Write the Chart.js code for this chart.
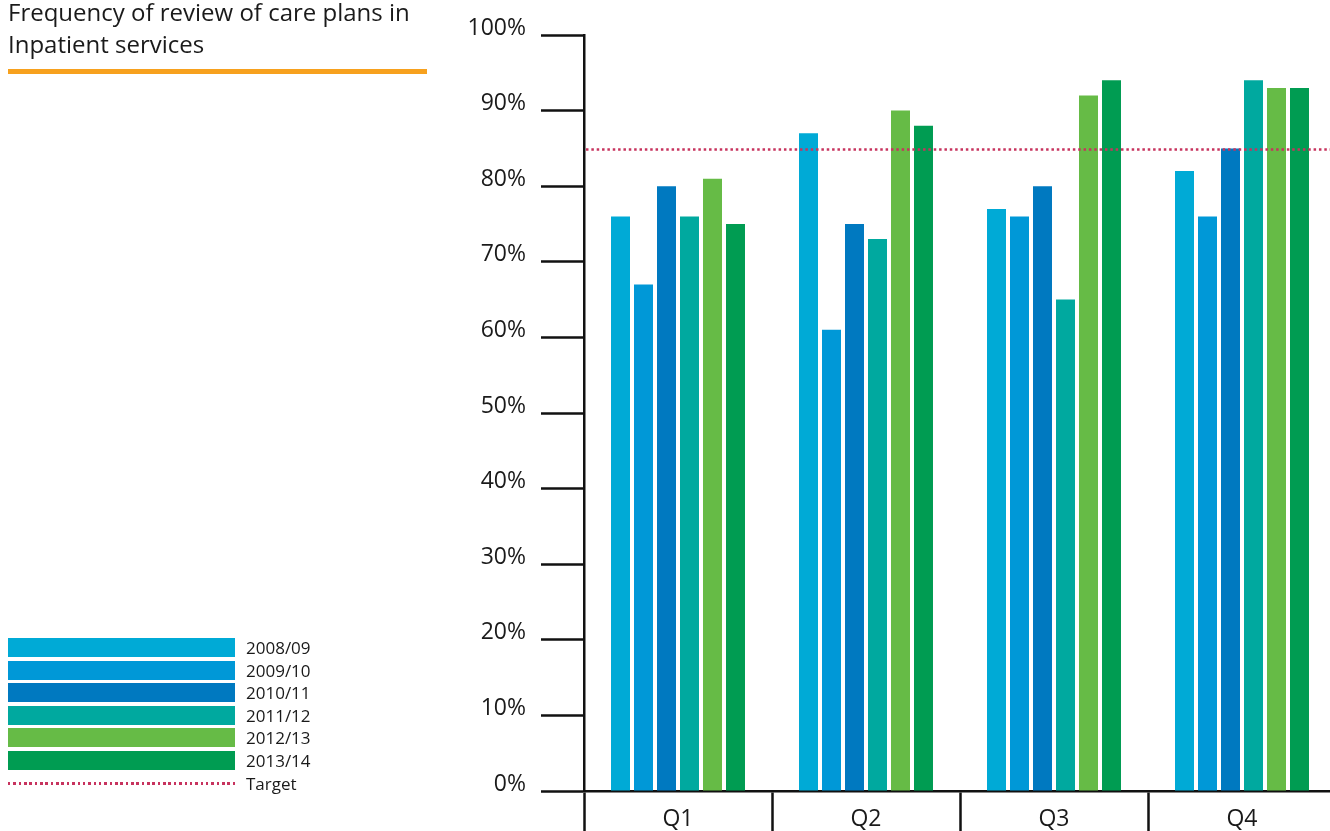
<!DOCTYPE html>
<html>
<head>
<meta charset="utf-8">
<script src="https://cdn.jsdelivr.net/npm/chart.js@4/dist/chart.umd.min.js"></script>
<style>
  html, body { margin: 0; padding: 0; background: #fff; width: 1330px; height: 831px; overflow: hidden; font-family: "Open Sans", sans-serif; color: #1a1a1a; }
  #chartBox { position: absolute; left: 0; top: 0; width: 1336px; height: 831px; }
  #title { position: absolute; left: 8px; top: -4px; font-size: 24px; line-height: 32px; white-space: nowrap; }
  #rule { position: absolute; left: 8px; top: 69px; width: 419px; height: 5px; background: #F7A11E; }
  #legend { position: absolute; left: 8px; top: 638px; width: 330px; }
  .row { position: absolute; left: 0; width: 330px; height: 19px; }
  .swatch { position: absolute; left: 0; top: 0; width: 227px; height: 19px; }
  .dots { position: absolute; left: 0; top: 8px; width: 227px; height: 2.5px; }
  .label { position: absolute; left: 238px; top: 0; font-size: 17px; line-height: 19px; white-space: nowrap; }
</style>
</head>
<body>
<div id="chartBox"><canvas id="chart" width="1336" height="831"></canvas></div>
<div id="title">Frequency of review of care plans in<br>Inpatient services</div>
<div id="rule"></div>
<div id="legend"></div>
<script>
// Quarters along the x axis
const categories = ['Q1', 'Q2', 'Q3', 'Q4'];

// Financial years, one bar series each
const seriesNames = ['2008/09', '2009/10', '2010/11', '2011/12', '2012/13', '2013/14'];

// Percentage of care plans reviewed on time, per quarter
const values0809 = [76, 87, 77, 82];
const values0910 = [67, 61, 76, 76];
const values1011 = [80, 75, 80, 85];
const values1112 = [76, 73, 65, 94];
const values1213 = [81, 90, 92, 93];
const values1314 = [75, 88, 94, 93];

// Target level and axis ticks
const targetValue = 85;
const targetLabel = 'Target';
const yTickValues = [0, 10, 20, 30, 40, 50, 60, 70, 80, 90, 100];

const seriesColors = ['#00AAD6', '#0098D7', '#0079C0', '#00A99F', '#66BB46', '#009C52'];
const targetColor = '#C7335E';

const seriesValues = [values0809, values0910, values1011, values1112, values1213, values1314];

// Dotted target line across the plot area
const targetLinePlugin = {
  id: 'targetLine',
  afterDatasetsDraw(chart) {
    const { ctx, chartArea, scales } = chart;
    const y = scales.y.getPixelForValue(targetValue) + 1;
    ctx.save();
    ctx.strokeStyle = targetColor;
    ctx.lineWidth = 2.5;
    ctx.setLineDash([2.5, 2.85]);
    ctx.beginPath();
    ctx.moveTo(chartArea.left + 2, y);
    ctx.lineTo(chartArea.right, y);
    ctx.stroke();
    ctx.restore();
  }
};

new Chart(document.getElementById('chart'), {
  type: 'bar',
  data: {
    labels: categories,
    datasets: seriesNames.map((name, i) => ({
      label: name,
      data: seriesValues[i],
      backgroundColor: seriesColors[i],
      borderWidth: 0,
      categoryPercentage: 0.734,
      barPercentage: 0.826
    }))
  },
  options: {
    responsive: false,
    animation: false,
    devicePixelRatio: 1,
    layout: { padding: { top: 35, left: 0, right: 0, bottom: 0 } },
    plugins: {
      legend: { display: false },
      tooltip: { enabled: false },
      title: { display: false }
    },
    scales: {
      x: {
        grid: {
          offset: true,
          drawOnChartArea: false,
          drawTicks: true,
          tickLength: 40,
          tickWidth: 2.5,
          tickColor: '#111',
          color: '#111'
        },
        border: { display: true, color: '#111', width: 2.5 },
        ticks: {
          font: { family: '"Open Sans", sans-serif', size: 23 },
          color: '#1a1a1a',
          padding: -25,
          maxRotation: 0
        },
        afterFit(scale) { scale.height = 40; }
      },
      y: {
        min: 0,
        max: 100,
        afterBuildTicks(scale) { scale.ticks = yTickValues.map(v => ({ value: v })); },
        grid: {
          drawOnChartArea: false,
          drawTicks: true,
          tickLength: 43,
          tickWidth: 2.5,
          tickColor: '#111',
          color: '#111'
        },
        border: { display: true, color: '#111', width: 2.5 },
        ticks: {
          font: { family: '"Open Sans", sans-serif', size: 23 },
          color: '#1a1a1a',
          padding: 15,
          labelOffset: -7,
          callback: v => v + '%'
        },
        afterFit(scale) { scale.width = 584; }
      }
    }
  },
  plugins: [targetLinePlugin]
});

// Legend rows built from the same series names and colours
const legend = document.getElementById('legend');
const rowStep = 22.6;
seriesNames.forEach((name, i) => {
  const row = document.createElement('div');
  row.className = 'row';
  row.style.top = Math.round(i * rowStep) + 'px';
  row.innerHTML = '<div class="swatch" style="background:' + seriesColors[i] + '"></div><div class="label">' + name + '</div>';
  legend.appendChild(row);
});
const trow = document.createElement('div');
trow.className = 'row';
trow.style.top = Math.round(seriesNames.length * rowStep) + 'px';
trow.innerHTML = '<div class="dots" style="background:repeating-linear-gradient(to right,' + targetColor + ' 0 2.5px, transparent 2.5px 5.35px)"></div><div class="label">' + targetLabel + '</div>';
legend.appendChild(trow);
</script>
</body>
</html>
